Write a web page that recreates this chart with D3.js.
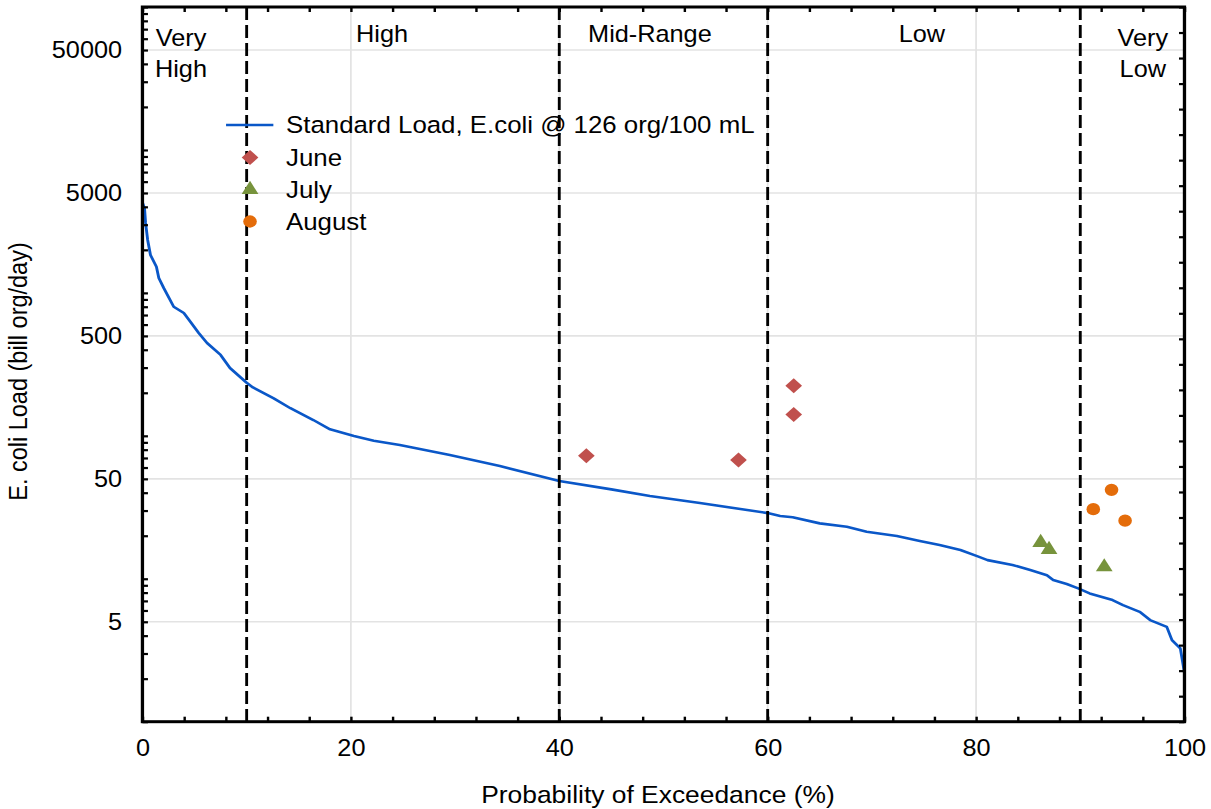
<!DOCTYPE html>
<html>
<head>
<meta charset="utf-8">
<script src="https://cdn.jsdelivr.net/npm/d3@7/dist/d3.min.js"></script>
<style>
  html, body { margin: 0; padding: 0; background: #fff; }
  svg { display: block; }
  text { font-family: "Liberation Sans", Arial, sans-serif; fill: #000; }
</style>
</head>
<body>
<svg id="chart" width="1211" height="809"></svg>
<script>
// ---------------- DATA ----------------
// Load duration curve: exceedance probability (%) and standard load (bill org/day)
const curveExceedance = [0, 0.2, 0.3, 0.5, 0.77, 1.34, 1.57, 2.05, 3.0, 3.97, 4.6, 5.4, 6.2, 7.5, 8.4,
  10.0, 10.6, 12.6, 14.2, 16.4, 18.0, 20.3, 22.2, 24.7, 29.5, 34.3, 40.0, 45.0, 48.7, 53.5,
  60.0, 61.2, 62.4, 65.0, 67.6, 69.5, 72.4, 74.6, 76.5, 78.5, 80.1, 81.1, 83.5, 85.2, 86.8,
  87.4, 88.7, 89.8, 90.9, 93.1, 94.1, 95.7, 96.7, 98.3, 98.8, 99.6, 99.9, 100];
const curveLoad = [4300, 3900, 3085, 2345, 1840, 1525, 1270, 1080, 800, 723, 629, 524, 446, 368, 298,
  235, 218, 183, 156, 129, 111, 99.7, 92.4, 86.2, 73.4, 61.5, 48.3, 42.2, 37.9, 33.9,
  28.8, 27.5, 26.9, 24.4, 23.1, 21.3, 19.9, 18.4, 17.2, 15.9, 14.4, 13.5, 12.5, 11.5, 10.6,
  9.8, 9.18, 8.56, 7.90, 7.09, 6.54, 5.87, 5.14, 4.61, 3.72, 3.26, 2.42, 2.19];

const juneExceedance = [42.6, 57.2, 62.5, 62.5];
const juneLoad = [72.5, 67.7, 224, 141];
const julyExceedance = [86.2, 87.0, 92.3];
const julyLoad = [17.9, 16.0, 12.1];
const augustExceedance = [93.0, 91.25, 94.3];
const augustLoad = [41.9, 30.7, 25.5];

const seriesNames = ["Standard Load, E.coli @ 126 org/100 mL", "June", "July", "August"];

// Flow zones
const zoneBoundaries = [10, 40, 60, 90];
const zoneLabels = [["Very", "High"], ["High"], ["Mid-Range"], ["Low"], ["Very", "Low"]];
const zoneLabelAt = [3.7, 23, 48.7, 74.8, 96];

// Axes
const xDomain = [0, 100];
const yDomain = [1, 100000];
const xLabelTicks = [0, 20, 40, 60, 80, 100];
const yLabelTicks = [5, 50, 500, 5000, 50000];
const xTitle = "Probability of Exceedance (%)";
const yTitle = "E. coli Load (bill org/day)";

// ---------------- DRAW ----------------
(function () {
const W = 1211, H = 809, SX = 1.1;
const svg = d3.select("#chart");
svg.append("rect").attr("width", W).attr("height", H).attr("fill", "#fff");
const g = svg.append("g").attr("transform", `scale(${SX},1)`);

const pL = 129.5, pR = 1076.8, pT = 7, pB = 721.7;
const x = d3.scaleLinear().domain(xDomain).range([pL, pR]);
const y = d3.scaleLog().domain(yDomain).range([pB, pT]);

const colors = { line: "#0a57c8", june: "#c0504d", july: "#77933c", august: "#e46c0a" };

// gridlines
const grid = g.append("g");
grid.selectAll("line.h").data(yLabelTicks).join("line").attr("class", "h")
  .attr("x1", pL).attr("x2", pR)
  .attr("y1", d => y(d)).attr("y2", d => y(d))
  .attr("stroke", "#e3e3e3").attr("stroke-width", 1.6);
grid.selectAll("line.v").data(xLabelTicks.filter(d => d > 0 && d < 100)).join("line").attr("class", "v")
  .attr("y1", pT).attr("y2", pB)
  .attr("x1", d => x(d)).attr("x2", d => x(d))
  .attr("stroke", "#e3e3e3").attr("stroke-width", 1.6);

// curve
const curveData = curveExceedance.map((p, i) => [p, curveLoad[i]]);
g.append("path").datum(curveData)
  .attr("d", d3.line().x(d => x(d[0])).y(d => y(d[1])))
  .attr("fill", "none").attr("stroke", colors.line).attr("stroke-width", 2.6)
  .attr("stroke-linejoin", "round");

// dashed zone boundaries
g.append("g").selectAll("line").data(zoneBoundaries).join("line")
  .attr("x1", d => x(d)).attr("x2", d => x(d))
  .attr("y1", pT).attr("y2", pB)
  .attr("stroke", "#000").attr("stroke-width", 2.6)
  .attr("stroke-dasharray", "13,5");

// axes
function styleAxis(sel) {
  sel.select(".domain").remove();
  sel.selectAll(".tick line").attr("stroke", "#000").attr("stroke-width", 2.2);
  sel.selectAll(".tick text").attr("font-size", 23).attr("fill", "#000")
    .style("font-family", "'Liberation Sans', Arial, sans-serif");
}
const xTickVals = d3.range(0, 101, 4);
g.append("g").attr("transform", `translate(0,${pB})`)
  .call(d3.axisBottom(x).tickValues(xTickVals)
    .tickFormat(d => xLabelTicks.includes(d) ? String(d) : "")
    .tickSizeInner(-5).tickSizeOuter(0).tickPadding(18))
  .call(styleAxis);
g.append("g").attr("transform", `translate(0,${pT})`)
  .call(d3.axisTop(x).tickValues(xTickVals).tickFormat("")
    .tickSizeInner(-5).tickSizeOuter(0))
  .call(styleAxis);

const yTickVals = y.ticks();
g.append("g").attr("transform", `translate(${pL},0)`)
  .call(d3.axisLeft(y).tickValues(yTickVals)
    .tickFormat(d => yLabelTicks.some(v => Math.abs(v - d) < 1e-6 * v) ? String(Math.round(d)) : "")
    .tickSizeInner(-5).tickSizeOuter(0).tickPadding(18.5))
  .call(styleAxis);

const yRight = d3.scaleLinear().domain([0, 28]).range([pB, pT]);
g.append("g").attr("transform", `translate(${pR},0)`)
  .call(d3.axisRight(yRight).tickValues(d3.range(0, 29)).tickFormat("")
    .tickSizeInner(-5).tickSizeOuter(0))
  .call(styleAxis);

// frame
g.append("rect").attr("x", pL).attr("y", pT)
  .attr("width", pR - pL).attr("height", pB - pT)
  .attr("fill", "none").attr("stroke", "#000").attr("stroke-width", 3);

// markers
const diamond = d3.symbol().type(d3.symbolSquare).size(115);
const triangle = d3.symbol().type(d3.symbolTriangle).size(100);
const circle = d3.symbol().type(d3.symbolCircle).size(120);

function drawPoints(px, py, gen, color, rot) {
  g.append("g").selectAll("path").data(px.map((p, i) => [p, py[i]])).join("path")
    .attr("d", gen())
    .attr("transform", d => `translate(${x(d[0])},${y(d[1])})` + (rot ? ` rotate(${rot})` : ""))
    .attr("fill", color);
}
drawPoints(juneExceedance, juneLoad, diamond, colors.june, 45);
drawPoints(julyExceedance, julyLoad, triangle, colors.july, 0);
drawPoints(augustExceedance, augustLoad, circle, colors.august, 0);

// zone labels
zoneLabels.forEach((lines, i) => {
  const t = g.append("text").attr("x", x(zoneLabelAt[i])).attr("text-anchor", "middle")
    .attr("font-size", 23);
  if (lines.length === 2) {
    t.append("tspan").attr("x", x(zoneLabelAt[i])).attr("y", 45.7).text(lines[0]);
    t.append("tspan").attr("x", x(zoneLabelAt[i])).attr("y", 76.7).text(lines[1]);
  } else {
    t.attr("y", 42).text(lines[0]);
  }
});

// legend
const legRows = [125, 157.5, 189.5, 221.5];
const legMarkX = 227.3, legTextX = 260;
const legend = g.append("g");
legend.append("line").attr("x1", 205.5).attr("x2", 248.5)
  .attr("y1", legRows[0]).attr("y2", legRows[0])
  .attr("stroke", colors.line).attr("stroke-width", 2.6);
legend.append("path").attr("d", diamond())
  .attr("transform", `translate(${legMarkX},${legRows[1]}) rotate(45)`).attr("fill", colors.june);
legend.append("path").attr("d", triangle())
  .attr("transform", `translate(${legMarkX},${legRows[2]})`).attr("fill", colors.july);
legend.append("path").attr("d", circle())
  .attr("transform", `translate(${legMarkX},${legRows[3]})`).attr("fill", colors.august);
seriesNames.forEach((name, i) => {
  legend.append("text").attr("x", legTextX).attr("y", legRows[i]).attr("dy", "0.35em")
    .attr("font-size", 23.5).text(name);
});

// axis titles
g.append("text").attr("x", (pL + pR) / 2 - 5).attr("y", 803.3)
  .attr("text-anchor", "middle").attr("font-size", 24).text(xTitle);
g.append("text").attr("transform", `translate(24.2,371.5) rotate(-90)`)
  .attr("text-anchor", "middle").attr("font-size", 23.5).text(yTitle);
})();
</script>
</body>
</html>
